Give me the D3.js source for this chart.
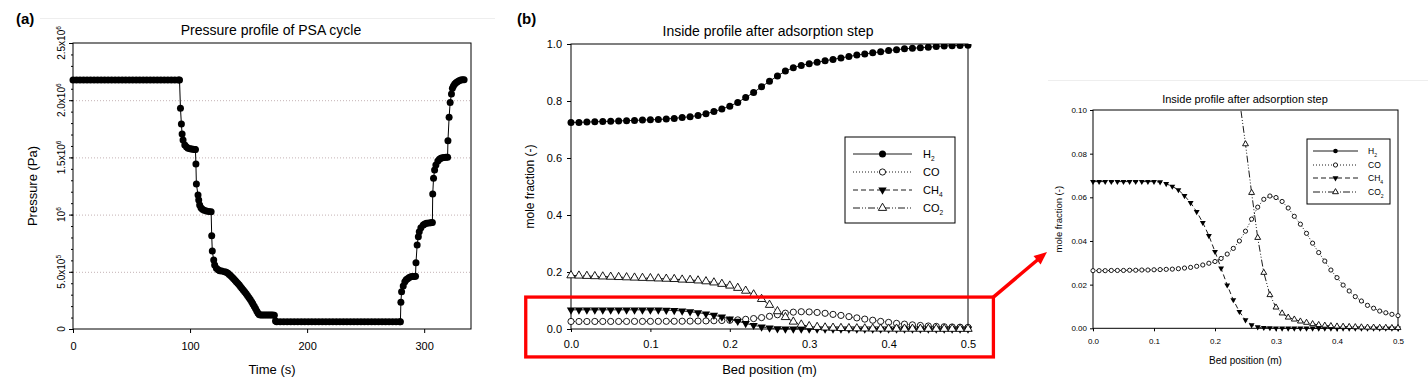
<!DOCTYPE html>
<html>
<head>
<meta charset="utf-8">
<script src="https://cdnjs.cloudflare.com/ajax/libs/d3/7.8.5/d3.min.js"></script>
<style>
body { margin: 0; background: #fff; }
svg text { font-family: "Liberation Sans", Arial, sans-serif; fill: #000; }
</style>
</head>
<body>
<div id="chart"></div>
<script>
// (a) pressure over one PSA cycle: [time (s), pressure (10^6 Pa)]
const pressureCycle = [
  [0,2.177],[3,2.177],[6,2.177],[9,2.177],[12,2.177],[15,2.177],[18,2.177],[21,2.177],[24,2.177],[27,2.177],
  [30,2.177],[33,2.177],[36,2.177],[39,2.177],[42,2.177],[45,2.177],[48,2.177],[51,2.177],[54,2.177],[57,2.177],
  [60,2.177],[63,2.177],[66,2.177],[69,2.177],[72,2.177],[75,2.177],[78,2.177],[81,2.177],[84,2.177],[87,2.177],
  [90,2.177],[91,2.177],
  [91.8,1.929],[92.6,1.792],[93.2,1.705],[94,1.652],[95.5,1.608],[97,1.590],[98.3,1.579],[100,1.575],[101.2,1.573],
  [102.6,1.571],[104,1.570],[104.6,1.568],
  [105,1.442],[105.4,1.267],[106.8,1.171],[107.4,1.128],[108.2,1.084],[109.3,1.060],[110.5,1.046],[112,1.037],
  [113.9,1.031],[116,1.028],[118,1.025],
  [118.5,0.816],[119,0.682],[120.2,0.603],[121,0.559],[122.5,0.530],[124,0.518],[125.3,0.510],[127,0.506],
  [129.5,0.501],[131,0.495],[132.4,0.487],
  [133.5,0.476],[134.7,0.465],[136,0.452],[137.2,0.440],[138.4,0.427],[139.5,0.414],[140.7,0.400],[141.9,0.386],
  [143,0.372],[144.2,0.357],[145.4,0.341],[146.6,0.326],[147.8,0.310],[149,0.293],[150.2,0.275],[151.4,0.257],
  [152.6,0.238],[153.7,0.219],[154.8,0.199],[155.9,0.179],[157,0.158],[158,0.139],[159,0.126],[160,0.122],
  [161.5,0.122],[163,0.122],[164.5,0.122],[166,0.122],[167.5,0.122],[169,0.122],[170.5,0.122],[172,0.120],
  [173,0.070],[174,0.064],[177,0.064],[180,0.064],[183,0.064],[186,0.064],[189,0.064],[192,0.064],[195,0.064],
  [198,0.064],[201,0.064],[204,0.064],[207,0.064],[210,0.064],[213,0.064],[216,0.064],[219,0.064],[222,0.064],
  [225,0.064],[228,0.064],[231,0.064],[234,0.064],[237,0.064],[240,0.064],[243,0.064],[246,0.064],[249,0.064],
  [252,0.064],[255,0.064],[258,0.064],[261,0.064],[264,0.064],[267,0.064],[270,0.064],[273,0.064],[276,0.064],
  [279,0.064],[279.7,0.064],
  [280.1,0.233],[280.7,0.326],[282.1,0.376],[283.5,0.414],[284.6,0.430],[285.8,0.440],[287.2,0.450],[288.6,0.457],
  [290,0.459],[291.5,0.460],[292.6,0.462],
  [293,0.580],[294,0.734],[295,0.807],[295.8,0.851],[297.2,0.886],[299.2,0.909],[300.5,0.918],[302,0.924],
  [304,0.927],[305.7,0.929],[307,0.930],
  [307.3,1.180],[308,1.317],[308.9,1.390],[310,1.434],[311.7,1.469],[313,1.484],[314.2,1.492],[315.6,1.497],
  [317,1.500],[318.7,1.501],[320,1.502],
  [320.3,1.646],[321.3,1.850],[322.2,1.980],[323.3,2.054],[324.1,2.104],[325,2.125],[326.1,2.141],[327.2,2.152],
  [328.4,2.161],[329.8,2.170],[331.3,2.177],[332.7,2.178],[334.1,2.178]
];
const timeTicks = [0, 100, 200, 300];
const pressureTicks = [0, 0.5, 1.0, 1.5, 2.0, 2.5];
const pressureTickLabels = [["0", ""], ["5.0x10", "5"], ["10", "6"], ["1.5x10", "6"], ["2.0x10", "6"], ["2.5x10", "6"]];
const pressureGrid = [0.5, 1.0, 1.5, 2.0];

// (b) mole fractions along the bed after the adsorption step
const bedPosition = [0.00,0.01,0.02,0.03,0.04,0.05,0.06,0.07,0.08,0.09,0.10,0.11,0.12,0.13,0.14,0.15,0.16,0.17,
  0.18,0.19,0.20,0.21,0.22,0.23,0.24,0.25,0.26,0.27,0.28,0.29,0.30,0.31,0.32,0.33,0.34,0.35,0.36,0.37,0.38,0.39,
  0.40,0.41,0.42,0.43,0.44,0.45,0.46,0.47,0.48,0.49,0.50];
const h2 = [0.725,0.725,0.726,0.727,0.728,0.729,0.730,0.731,0.732,0.733,0.734,0.735,0.737,0.739,0.742,0.745,0.749,
  0.755,0.763,0.772,0.782,0.795,0.812,0.830,0.850,0.869,0.888,0.905,0.917,0.925,0.931,0.936,0.941,0.946,0.951,
  0.956,0.961,0.965,0.969,0.973,0.977,0.980,0.983,0.985,0.987,0.989,0.991,0.993,0.994,0.995,0.996];
const co = [0.0264,0.0264,0.0264,0.0265,0.0265,0.0265,0.0266,0.0266,0.0267,0.0267,0.0268,0.0269,0.0270,0.0271,
  0.0273,0.0276,0.0279,0.0284,0.0290,0.0298,0.0306,0.0320,0.0340,0.0366,0.0400,0.0445,0.0500,0.0555,0.0591,
  0.0606,0.0599,0.0581,0.0551,0.0513,0.0477,0.0435,0.0390,0.0347,0.0308,0.0267,0.0232,0.0198,0.0171,0.0145,
  0.0125,0.0105,0.0092,0.0079,0.0071,0.0064,0.0058];
const ch4 = [0.0672,0.0672,0.0672,0.0672,0.0672,0.0672,0.0672,0.0672,0.0672,0.0672,0.0672,0.0670,0.0662,0.0650,
  0.0634,0.0607,0.0575,0.0534,0.0484,0.0424,0.0351,0.0275,0.0198,0.0130,0.0076,0.0038,0.0015,0.0006,0.0003,
  0.0002,0.0001,0,0,0,0,0,0,0,0,0,0,0,0,0,0,0,0,0,0,0,0];
const co2 = [0.188,0.187,0.186,0.185,0.184,0.183,0.182,0.181,0.180,0.179,0.178,0.177,0.176,0.175,0.173,0.172,
  0.170,0.167,0.163,0.158,0.152,0.144,0.134,0.121,0.105,0.0844,0.0621,0.0415,0.0255,0.0153,0.0096,0.0069,0.0050,
  0.0041,0.0032,0.0026,0.0020,0.0016,0.0013,0.0011,0.0009,0.0008,0.0007,0.0006,0.0005,0.0004,0.0004,0.0003,
  0.0003,0.0002,0.0002];
const speciesLabels = [["H", "2"], ["CO", ""], ["CH", "4"], ["CO", "2"]];
const bedTicks = [0, 0.1, 0.2, 0.3, 0.4, 0.5];
const moleTicks = [0, 0.2, 0.4, 0.6, 0.8, 1.0];
const insetMoleTicks = [0, 0.02, 0.04, 0.06, 0.08, 0.10];

const series = [
  { values: h2,  dash: null,            marker: "circle", fill: "#000" },
  { values: co,  dash: "1,2",           marker: "circle", fill: "#fff" },
  { values: ch4, dash: "5,3",           marker: "down",   fill: "#000" },
  { values: co2, dash: "7,2,1,2,1,2",   marker: "up",     fill: "#fff" }
];

const font = '"Liberation Sans", Arial, sans-serif';

var svg = d3.select("#chart").append("svg")
  .attr("width", 1428)
  .attr("height", 380);

// faint edges of the pasted pictures
svg.append("line").attr("x1", 40).attr("x2", 495).attr("y1", 18.5).attr("y2", 18.5).attr("stroke", "#eeeeee");
svg.append("line").attr("x1", 1048).attr("x2", 1428).attr("y1", 80.5).attr("y2", 80.5).attr("stroke", "#eeeeee");

function styleAxis(g, size) {
  g.attr("font-family", font);
  g.selectAll("text").style("font-size", size + "px").attr("fill", "#000");
  g.selectAll("line").attr("stroke", "#000");
  g.select(".domain").remove();
}

// ---------- (a) ----------
var xA = d3.scaleLinear().domain([0, 340]).range([73, 471]);
var yA = d3.scaleLinear().domain([0, 2.5]).range([329, 43]);

svg.append("g").selectAll("line").data(pressureGrid).enter().append("line")
  .attr("x1", xA(0)).attr("x2", xA(340))
  .attr("y1", d => yA(d) + 0.5).attr("y2", d => yA(d) + 0.5)
  .attr("stroke", "#c4b2b4").attr("stroke-width", 1).attr("stroke-dasharray", "1,2");

var gxA = svg.append("g").attr("transform", "translate(0,329)")
  .call(d3.axisBottom(xA).tickValues(timeTicks).tickSize(4).tickPadding(9).tickSizeOuter(0));
styleAxis(gxA, 11);

var gyA = svg.append("g").attr("transform", "translate(73,0)")
  .call(d3.axisLeft(yA).tickValues(pressureTicks).tickSize(4).tickFormat("").tickSizeOuter(0));
styleAxis(gyA, 10);
var gyAminor = svg.append("g").attr("transform", "translate(73,0)")
  .call(d3.axisLeft(yA).tickValues(d3.range(0.1, 2.5, 0.1)).tickSize(2).tickFormat("").tickSizeOuter(0));
styleAxis(gyAminor, 10);

pressureTicks.forEach(function (v, i) {
  var t = svg.append("text")
    .attr("transform", "translate(65," + yA(v) + ") rotate(-90)")
    .attr("text-anchor", "middle")
    .style("font-size", "10px");
  t.append("tspan").text(pressureTickLabels[i][0]);
  if (pressureTickLabels[i][1]) {
    t.append("tspan").attr("dy", -4).style("font-size", "6.5px").text(pressureTickLabels[i][1]);
  }
});

svg.append("rect").attr("x", 73).attr("y", 43).attr("width", 398).attr("height", 286)
  .attr("fill", "none").attr("stroke", "#000").attr("stroke-width", 1);

svg.append("path").datum(pressureCycle)
  .attr("fill", "none").attr("stroke", "#000").attr("stroke-width", 1)
  .attr("d", d3.line().x(d => xA(d[0])).y(d => yA(d[1])));
svg.append("g").selectAll("circle").data(pressureCycle).enter().append("circle")
  .attr("cx", d => xA(d[0])).attr("cy", d => yA(d[1])).attr("r", 3.5).attr("fill", "#000");

svg.append("text").attr("x", 16).attr("y", 24).style("font-size", "15px").style("font-weight", "bold").text("(a)");
svg.append("text").attr("x", 271).attr("y", 35).attr("text-anchor", "middle").style("font-size", "14px")
  .text("Pressure profile of PSA cycle");
svg.append("text").attr("x", 272).attr("y", 374).attr("text-anchor", "middle").style("font-size", "13px")
  .text("Time (s)");
svg.append("text").attr("transform", "translate(37,186) rotate(-90)").attr("text-anchor", "middle")
  .style("font-size", "13px").text("Pressure (Pa)");

// ---------- profile panels ----------
function drawProfile(x, y, opt) {
  var clipId = "clip" + opt.id;
  svg.append("clipPath").attr("id", clipId).append("rect")
    .attr("x", x.range()[0] - 6).attr("y", y.range()[1])
    .attr("width", x.range()[1] - x.range()[0] + 12).attr("height", y.range()[0] - y.range()[1] + 6);

  var gx = svg.append("g").attr("transform", "translate(0," + y.range()[0] + ")")
    .call(d3.axisBottom(x).tickValues(bedTicks).tickFormat(d3.format(".1f"))
      .tickSize(3).tickPadding(opt.xPad).tickSizeOuter(0));
  styleAxis(gx, opt.tickFont);
  var gy = svg.append("g").attr("transform", "translate(" + x.range()[0] + ",0)")
    .call(d3.axisLeft(y).tickValues(opt.yTicks).tickFormat(d3.format(opt.yFormat))
      .tickSize(opt.yTick).tickPadding(opt.yPad).tickSizeOuter(0));
  styleAxis(gy, opt.tickFont);

  svg.append("rect").attr("x", x.range()[0]).attr("y", y.range()[1])
    .attr("width", x.range()[1] - x.range()[0]).attr("height", y.range()[0] - y.range()[1])
    .attr("fill", "none").attr("stroke", "#000").attr("stroke-width", 1);

  var plot = svg.append("g").attr("clip-path", "url(#" + clipId + ")");
  series.forEach(function (s) {
    var pts = bedPosition.map((b, i) => [b, s.values[i]]);
    plot.append("path").datum(pts)
      .attr("fill", "none").attr("stroke", "#000").attr("stroke-width", 0.9)
      .attr("stroke-dasharray", s.dash)
      .attr("d", d3.line().x(d => x(d[0])).y(d => y(d[1])));
    drawMarkers(plot, pts.map(d => [x(d[0]), y(d[1])]), s, opt);
  });

  // legend
  var L = opt.legend;
  svg.append("rect").attr("x", L.x).attr("y", L.y).attr("width", L.w).attr("height", L.h)
    .attr("fill", "#fff").attr("stroke", "#000").attr("stroke-width", 1);
  series.forEach(function (s, i) {
    var ry = L.rows[i];
    svg.append("line").attr("x1", L.l1).attr("x2", L.l2).attr("y1", ry).attr("y2", ry)
      .attr("stroke", "#000").attr("stroke-width", 0.9).attr("stroke-dasharray", s.dash);
    drawMarkers(svg, [[(L.l1 + L.l2) / 2, ry]], s, opt);
    var t = svg.append("text").attr("x", L.tx).attr("y", ry + L.font * 0.36).style("font-size", L.font + "px");
    t.append("tspan").text(speciesLabels[i][0]);
    if (speciesLabels[i][1]) {
      t.append("tspan").attr("dy", L.font * 0.3).style("font-size", (L.font * 0.6) + "px").text(speciesLabels[i][1]);
    }
  });

  svg.append("text").attr("x", opt.titleX).attr("y", opt.titleY).attr("text-anchor", "middle")
    .style("font-size", opt.titleFont + "px").text("Inside profile after adsorption step");
  svg.append("text").attr("x", (x.range()[0] + x.range()[1]) / 2).attr("y", opt.xLabelY)
    .attr("text-anchor", "middle").style("font-size", opt.xLabelFont + "px").text("Bed position (m)");
  svg.append("text").attr("transform", "translate(" + opt.yLabelX + "," + (y.range()[0] + y.range()[1]) / 2 + ") rotate(-90)")
    .attr("text-anchor", "middle").style("font-size", opt.yLabelFont + "px").text("mole fraction (-)");
}

function drawMarkers(g, pts, s, opt) {
  if (s.marker === "circle") {
    g.append("g").selectAll("circle").data(pts).enter().append("circle")
      .attr("cx", d => d[0]).attr("cy", d => d[1])
      .attr("r", s.fill === "#000" ? opt.dot : opt.ring)
      .attr("fill", s.fill).attr("stroke", "#000").attr("stroke-width", s.fill === "#000" ? 0 : 0.9);
  } else {
    var sym = d3.symbol().type(d3.symbolTriangle).size(opt.tri);
    g.append("g").selectAll("path").data(pts).enter().append("path")
      .attr("d", sym)
      .attr("transform", d => "translate(" + d[0] + "," + d[1] + ")" + (s.marker === "down" ? " rotate(180)" : ""))
      .attr("fill", s.fill).attr("stroke", "#000").attr("stroke-width", s.fill === "#000" ? 0 : 0.9);
  }
}

// ---------- (b) ----------
var xB = d3.scaleLinear().domain([0, 0.5]).range([571, 968]);
var yB = d3.scaleLinear().domain([0, 1]).range([329, 44]);
drawProfile(xB, yB, {
  id: "b", yTicks: moleTicks, yFormat: ".1f", tickFont: 11, xPad: 8, yTick: 4, yPad: 5,
  dot: 3.5, ring: 3.1, tri: 30,
  titleX: 768, titleY: 36, titleFont: 14, xLabelY: 374, xLabelFont: 13, yLabelX: 534, yLabelFont: 12,
  legend: { x: 845, y: 137, w: 110, h: 86, rows: [154, 172, 190, 208], l1: 853, l2: 912, tx: 923, font: 11 }
});
svg.append("text").attr("x", 517).attr("y", 24).style("font-size", "15px").style("font-weight", "bold").text("(b)");

// ---------- zoomed inset of (b) ----------
var xC = d3.scaleLinear().domain([0, 0.5]).range([1093, 1398]);
var yC = d3.scaleLinear().domain([0, 0.1]).range([328.3, 110]);
drawProfile(xC, yC, {
  id: "c", yTicks: insetMoleTicks, yFormat: ".2f", tickFont: 8, xPad: 7, yTick: 3, yPad: 3,
  dot: 2.3, ring: 2.1, tri: 15,
  titleX: 1245, titleY: 103, titleFont: 11, xLabelY: 364, xLabelFont: 10, yLabelX: 1062, yLabelFont: 9.5,
  legend: { x: 1307, y: 139, w: 83, h: 65, rows: [151, 165, 178, 192], l1: 1313, l2: 1358, tx: 1368, font: 8.5 }
});

// highlight of the low-fraction band in (b) and arrow to the inset
var hl = { x0: xB(-0.057), x1: xB(0.532), y0: yB(0.112), y1: yB(-0.098) };
svg.append("rect").attr("x", hl.x0).attr("y", hl.y0).attr("width", hl.x1 - hl.x0).attr("height", hl.y1 - hl.y0)
  .attr("fill", "none").attr("stroke", "#ff0000").attr("stroke-width", 3.3);
var a0 = [hl.x1, hl.y0], a1 = [xC(-0.0754), yC(0.035)];
var dx = a1[0] - a0[0], dy = a1[1] - a0[1], len = Math.sqrt(dx * dx + dy * dy);
var ux = dx / len, uy = dy / len, head = 13, half = 5.5;
var bx = a1[0] - ux * head, by = a1[1] - uy * head;
svg.append("line").attr("x1", a0[0]).attr("y1", a0[1]).attr("x2", bx + ux * 2).attr("y2", by + uy * 2)
  .attr("stroke", "#ff0000").attr("stroke-width", 3.5);
svg.append("path")
  .attr("d", "M" + a1[0] + "," + a1[1] + "L" + (bx - uy * half) + "," + (by + ux * half) +
    "L" + (bx + uy * half) + "," + (by - ux * half) + "Z")
  .attr("fill", "#ff0000");
</script>
</body>
</html>
